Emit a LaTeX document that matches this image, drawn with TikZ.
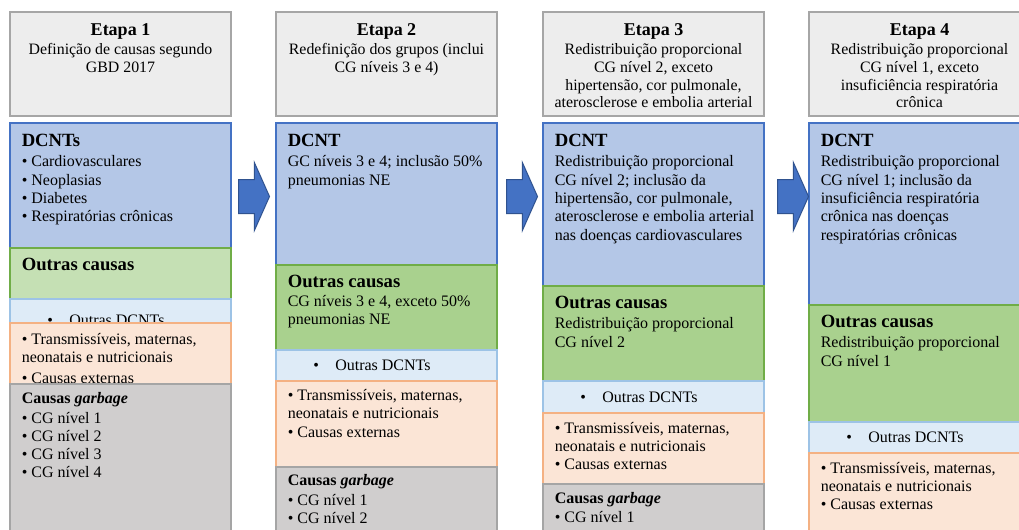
\documentclass[tikz,border=0pt]{standalone}
\usepackage{fontspec}
\setmainfont{Liberation Serif}
\usetikzlibrary{positioning,shapes.arrows}

\definecolor{cabecFundo}{HTML}{EDEDED}
\definecolor{cabecBorda}{HTML}{A6A6A6}
\definecolor{azulFundo}{HTML}{B4C7E7}
\definecolor{azulBorda}{HTML}{4472C4}
\definecolor{verdeClaro}{HTML}{C5E0B4}
\definecolor{verdeFundo}{HTML}{A9D18E}
\definecolor{verdeBorda}{HTML}{70AD47}
\definecolor{azulClaro}{HTML}{DEEBF7}
\definecolor{azulClaroBorda}{HTML}{9DC3E6}
\definecolor{laranjaFundo}{HTML}{FBE5D6}
\definecolor{laranjaBorda}{HTML}{F4B183}
\definecolor{cinzaFundo}{HTML}{D0CECE}
\definecolor{cinzaBorda}{HTML}{A5A5A5}
\definecolor{setaFundo}{HTML}{4472C4}
\definecolor{setaBorda}{HTML}{2F528F}

\newcommand{\esq}[1]{\begin{tabular}[t]{@{}l@{}}#1\end{tabular}}
\newcommand{\cen}[1]{\begin{tabular}[t]{@{}c@{}}#1\end{tabular}}
\newcommand{\titulo}[1]{{\fontsize{14}{14}\selectfont\bfseries #1}}
\newcommand{\etapa}[1]{{\fontsize{13.5}{13.5}\selectfont\bfseries Etapa #1}}

\begin{document}
\begin{tikzpicture}[x=0.75pt, y=-0.75pt,
    caixa/.style={draw, line width=1pt, anchor=north west, inner sep=0pt, outer sep=0pt, minimum width=165.75pt},
    cabec/.style={caixa, fill=cabecFundo, draw=cabecBorda, minimum height=78pt},
    dcnt/.style={caixa, fill=azulFundo, draw=azulBorda},
    outras/.style={caixa, fill=verdeFundo, draw=verdeBorda},
    outrasum/.style={caixa, fill=verdeClaro, draw=verdeBorda},
    dcntout/.style={caixa, fill=azulClaro, draw=azulClaroBorda},
    transm/.style={caixa, fill=laranjaFundo, draw=laranjaBorda},
    garbage/.style={caixa, fill=cinzaFundo, draw=cinzaBorda},
    txt/.style={anchor=base west, inner sep=0pt, font=\fontsize{12}{13.7}\selectfont},
    txtcab/.style={anchor=base, inner sep=0pt, font=\fontsize{11.9}{13.2}\selectfont},
    seta/.style={single arrow, fill=setaFundo, draw=setaBorda, line width=0.75pt,
        inner xsep=0pt, inner ysep=12.375pt, minimum height=23.25pt,
        single arrow head extend=12.75pt, single arrow tip angle=132, anchor=tail}]
    \useasboundingbox (0,0) rectangle (1019,529);
    \clip (0,0) rectangle (1019,529);
    \fill[white] (0,0) rectangle (1019,529);

    %%%%%%%%%% Etapa 1 %%%%%%%%%%
    \node[cabec] (h1) at (10,12) {};
    \node[txtcab] (th1) at ([shift={(110.5,23)}]h1.north west) {\cen{\etapa{1}\\[1.7pt] Definição de causas segundo\\ GBD 2017}};
    \node[dcnt, minimum height=93.75pt] (b1) at (10,123) {};
    \node[txt] (tb1) at ([shift={(11.5,23)}]b1.north west) {\esq{\titulo{DCNTs}\\[2pt] • Cardiovasculares\\ • Neoplasias\\ • Diabetes\\ • Respiratórias crônicas}};
    \node[outrasum, minimum height=38.25pt, below=0pt of b1] (g1) {};
    \node[txt] (tg1) at ([shift={(11.5,22)}]g1.north west) {\titulo{Outras causas}};
    \node[dcntout, minimum height=18pt, below=0pt of g1] (l1) {};
    \node[txt] (tl1) at ([shift={(37,26.5)}]l1.north west) {•\hspace{12.3pt}Outras DCNTs};
    \node[transm, minimum height=45.75pt, below=0pt of l1] (o1) {};
    \node[txt] (to1) at ([shift={(11.5,21)}]o1.north west) {\esq{• Transmissíveis, maternas,\\ neonatais e nutricionais\\[2.5pt] • Causas externas}};
    \node[garbage, minimum height=117pt, below=0pt of o1] (c1) {};
    \node[txt] (tc1) at ([shift={(11.5,19.5)}]c1.north west) {\esq{\textbf{Causas \textit{garbage}}\\[1pt] • CG nível 1\\ • CG nível 2\\ • CG nível 3\\ • CG nível 4}};

    %%%%%%%%%% Etapa 2 %%%%%%%%%%
    \node[cabec] (h2) at (276,12) {};
    \node[txtcab] (th2) at ([shift={(110.5,23)}]h2.north west) {\cen{\etapa{2}\\[1.7pt] Redefinição dos grupos (inclui\\ CG níveis 3 e 4)}};
    \node[dcnt, minimum height=106.5pt] (b2) at (276,123) {};
    \node[txt] (tb2) at ([shift={(11.5,23)}]b2.north west) {\esq{\titulo{DCNT}\\[2pt] GC níveis 3 e 4; inclusão 50\%\\ pneumonias NE}};
    \node[outras, minimum height=63.75pt, below=0pt of b2] (g2) {};
    \node[txt] (tg2) at ([shift={(11.5,22)}]g2.north west) {\esq{\titulo{Outras causas}\\[1pt] CG níveis 3 e 4, exceto 50\%\\ pneumonias NE}};
    \node[dcntout, minimum height=23.25pt, below=0pt of g2] (l2) {};
    \node[txt] (tl2) at ([shift={(37,20)}]l2.north west) {•\hspace{12.3pt}Outras DCNTs};
    \node[transm, minimum height=64.5pt, below=0pt of l2] (o2) {};
    \node[txt] (to2) at ([shift={(11.5,19.5)}]o2.north west) {\esq{• Transmissíveis, maternas,\\ neonatais e nutricionais\\ • Causas externas}};
    \node[garbage, minimum height=54.75pt, below=0pt of o2] (c2) {};
    \node[txt] (tc2) at ([shift={(11.5,18.5)}]c2.north west) {\esq{\textbf{Causas \textit{garbage}}\\[1pt] • CG nível 1\\ • CG nível 2}};

    %%%%%%%%%% Etapa 3 %%%%%%%%%%
    \node[cabec] (h3) at (543,12) {};
    \node[txtcab] (th3) at ([shift={(110.5,23)}]h3.north west) {\cen{\etapa{3}\\[1.7pt] Redistribuição proporcional\\ CG nível 2, exceto\\ hipertensão, cor pulmonale,\\ aterosclerose e embolia arterial}};
    \node[dcnt, minimum height=122.25pt] (b3) at (543,123) {};
    \node[txt] (tb3) at ([shift={(11.5,23)}]b3.north west) {\esq{\titulo{DCNT}\\[2pt] Redistribuição proporcional\\ CG nível 2; inclusão da\\ hipertensão, cor pulmonale,\\ aterosclerose e embolia arterial\\ nas doenças cardiovasculares}};
    \node[outras, minimum height=71.25pt, below=0pt of b3] (g3) {};
    \node[txt] (tg3) at ([shift={(11.5,22)}]g3.north west) {\esq{\titulo{Outras causas}\\[2pt] Redistribuição proporcional\\ CG nível 2}};
    \node[dcntout, minimum height=24pt, below=0pt of g3] (l3) {};
    \node[txt] (tl3) at ([shift={(37,21)}]l3.north west) {•\hspace{12.3pt}Outras DCNTs};
    \node[transm, minimum height=53.25pt, below=0pt of l3] (o3) {};
    \node[txt] (to3) at ([shift={(11.5,20)}]o3.north west) {\esq{• Transmissíveis, maternas,\\ neonatais e nutricionais\\ • Causas externas}};
    \node[garbage, minimum height=42pt, below=0pt of o3] (c3) {};
    \node[txt] (tc3) at ([shift={(11.5,19)}]c3.north west) {\esq{\textbf{Causas \textit{garbage}}\\[1pt] • CG nível 1}};

    %%%%%%%%%% Etapa 4 %%%%%%%%%%
    \node[cabec] (h4) at (809,12) {};
    \node[txtcab] (th4) at ([shift={(110.5,23)}]h4.north west) {\cen{\etapa{4}\\[1.7pt] Redistribuição proporcional\\ CG nível 1, exceto\\ insuficiência respiratória\\ crônica}};
    \node[dcnt, minimum height=136.5pt] (b4) at (809,123) {};
    \node[txt] (tb4) at ([shift={(11.5,23)}]b4.north west) {\esq{\titulo{DCNT}\\[2pt] Redistribuição proporcional\\ CG nível 1; inclusão da\\ insuficiência respiratória\\ crônica nas doenças\\ respiratórias crônicas}};
    \node[outras, minimum height=87.75pt, below=0pt of b4] (g4) {};
    \node[txt] (tg4) at ([shift={(11.5,22)}]g4.north west) {\esq{\titulo{Outras causas}\\[2pt] Redistribuição proporcional\\ CG nível 1}};
    \node[dcntout, minimum height=23.25pt, below=0pt of g4] (l4) {};
    \node[txt] (tl4) at ([shift={(37,20)}]l4.north west) {•\hspace{12.3pt}Outras DCNTs};
    \node[transm, minimum height=65.25pt, below=0pt of l4] (o4) {};
    \node[txt] (to4) at ([shift={(11.5,20)}]o4.north west) {\esq{• Transmissíveis, maternas,\\ neonatais e nutricionais\\ • Causas externas}};

    %%%%%%%%%% Setas %%%%%%%%%%
    \node[seta] (s1) at (238,196.5) {};
    \node[seta] (s2) at (506,196.5) {};
    \node[seta] (s3) at (777,196.5) {};
\end{tikzpicture}
\end{document}
